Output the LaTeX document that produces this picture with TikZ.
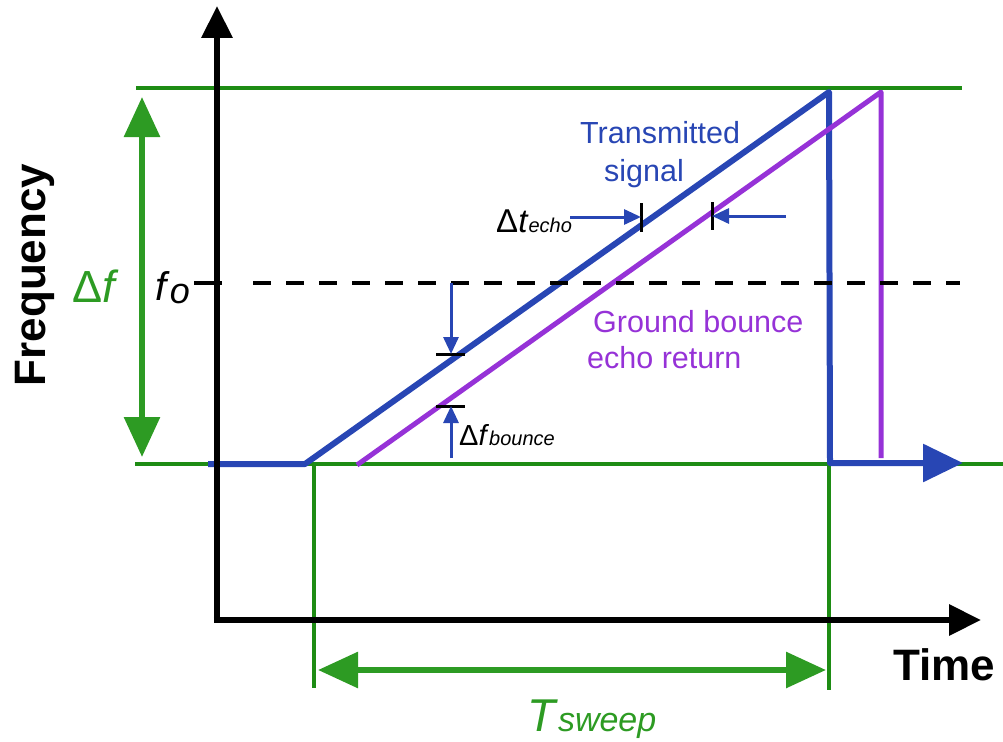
\documentclass[tikz,border=0pt]{standalone}
\usepackage{fontspec}
\setmainfont{Liberation Sans}
\usetikzlibrary{arrows.meta}
\definecolor{sigblue}{RGB}{40,70,180}
\definecolor{echopurple}{RGB}{150,50,215}
\definecolor{grn}{RGB}{45,155,35}
\definecolor{grnline}{RGB}{30,140,20}
\begin{document}
\begin{tikzpicture}[x=1pt,y=-1pt,
  guide/.style={grnline, line width=3.5pt},
  dimarrow/.style={grn, line width=6pt, {Triangle[length=40pt,width=35pt]}-{Triangle[length=40pt,width=35pt]}},
  axisline/.style={black, line width=6.5pt, -{Triangle[length=32pt,width=30pt]}},
  sweepline/.style={line width=6pt, line join=round},
  smallarrow/.style={sigblue, line width=3pt, -{Triangle[length=17pt,width=15pt]}},
  tickmark/.style={black, line width=3pt},
  lbl/.style={inner sep=0pt, anchor=base west},
  txt/.style={font=\fontsize{30.5}{36}\selectfont}
]
\useasboundingbox (0,0) rectangle (1003,741);

% key points
\coordinate (origin) at (217,620);
\coordinate (ytop) at (217,6);
\coordinate (xend) at (981,620);
\coordinate (s0) at (208,464);
\coordinate (s1) at (305,464);
\coordinate (s2) at (829,92);
\coordinate (s3) at (830,463);
\coordinate (s4) at (963,463);
\coordinate (e1) at (357,465);
\coordinate (e2) at (881,92);
\coordinate (e3) at (881,458);

% green guide lines
\draw[guide] (136,88) coordinate (gt0) -- (962,88) coordinate (gt1);
\draw[guide] (135,464) coordinate (gb0) -- (1003,464) coordinate (gb1);
\draw[guide] (314,464) coordinate (gl0) -- (314,688) coordinate (gl1);
\draw[guide] (829,464) coordinate (gr0) -- (829,690) coordinate (gr1);

% dimension arrows
\coordinate (df0) at (142,97);
\coordinate (df1) at (142,457);
\draw[dimarrow] (df0) -- (df1);
\coordinate (ts0) at (318,670);
\coordinate (ts1) at (826,670);
\draw[dimarrow] (ts0) -- (ts1);

% transmitted signal
\draw[sigblue, sweepline, -{Triangle[length=40pt,width=37pt]}] (s0) -- (s1) -- (s2) -- (s3) -- (s4);
% echo
\draw[echopurple, sweepline, line width=5pt] (e1) -- (e2) -- (e3);

% axes
\draw[axisline] (origin) -- (ytop);
\draw[axisline] ([xshift=-3.25pt]origin) -- (xend);

% f0 dashed level
\coordinate (f0a) at (194,283);
\coordinate (f0b) at (222,283);
\coordinate (f0c) at (253,283);
\coordinate (f0d) at (960,283);
\draw[black, line width=4.5pt] (f0a) -- (f0b);
\draw[black, line width=4.5pt, dash pattern=on 18pt off 15pt] (f0c) -- (f0d);

% delta t echo
\coordinate (ta) at (641,203); \coordinate (tb) at (641,232);
\coordinate (tc) at (712,202); \coordinate (td) at (712,230);
\draw[tickmark] (ta) -- (tb);
\draw[tickmark] (tc) -- (td);
\coordinate (dt0) at (570,217); \coordinate (dt1) at (641,217);
\coordinate (dt2) at (786,216); \coordinate (dt3) at (712,216);
\draw[smallarrow] (dt0) -- (dt1);
\draw[smallarrow] (dt2) -- (dt3);

% delta f bounce
\coordinate (fa) at (436,354); \coordinate (fb) at (465,354);
\coordinate (fc) at (436,406); \coordinate (fd) at (465,406);
\draw[tickmark] (fa) -- (fb);
\draw[tickmark] (fc) -- (fd);
\coordinate (db0) at (451,283); \coordinate (db1) at (451,354);
\coordinate (db2) at (451,458); \coordinate (db3) at (451,406);
\draw[smallarrow] (db0) -- (db1);
\draw[smallarrow] (db2) -- (db3);

% labels
\node[lbl, txt, sigblue] (tx1) at (580,143) {Transmitted};
\node[lbl, txt, sigblue] (tx2) at (604,181) {signal};
\node[lbl, txt, echopurple] (gb1l) at (593,332) {Ground bounce};
\node[lbl, txt, echopurple] (gb2l) at (587,368) {echo return};

\node[inner sep=0pt, anchor=base, rotate=90, font=\fontsize{44}{48}\selectfont\bfseries] (freq) at (45,275) {Frequency};
\node[lbl, font=\fontsize{44}{48}\selectfont\bfseries] (time) at (893,680) {Time};

\node[lbl, grn, font=\fontsize{45}{48}\selectfont] (dflab) at (72,302) {Δ\textit{f}};
\node[lbl, font=\fontsize{40}{44}\selectfont] (f0lab) at (155,300) {\textit{f}\raisebox{-3pt}{\fontsize{36}{36}\selectfont\textit{o}}};

\node[lbl, font=\fontsize{33}{36}\selectfont] (dtlab) at (496,232) {Δ\textit{t}{\fontsize{20}{22}\selectfont\textit{echo}}};
\node[lbl, font=\fontsize{29}{32}\selectfont] (dblab) at (459,445) {Δ\textit{f}{\fontsize{20}{22}\selectfont\textit{bounce}}};

\node[lbl, grn, font=\fontsize{46}{50}\selectfont] (tslab) at (527,731) {\textit{T}{\fontsize{34}{36}\selectfont\textit{sweep}}};
\end{tikzpicture}
\end{document}
